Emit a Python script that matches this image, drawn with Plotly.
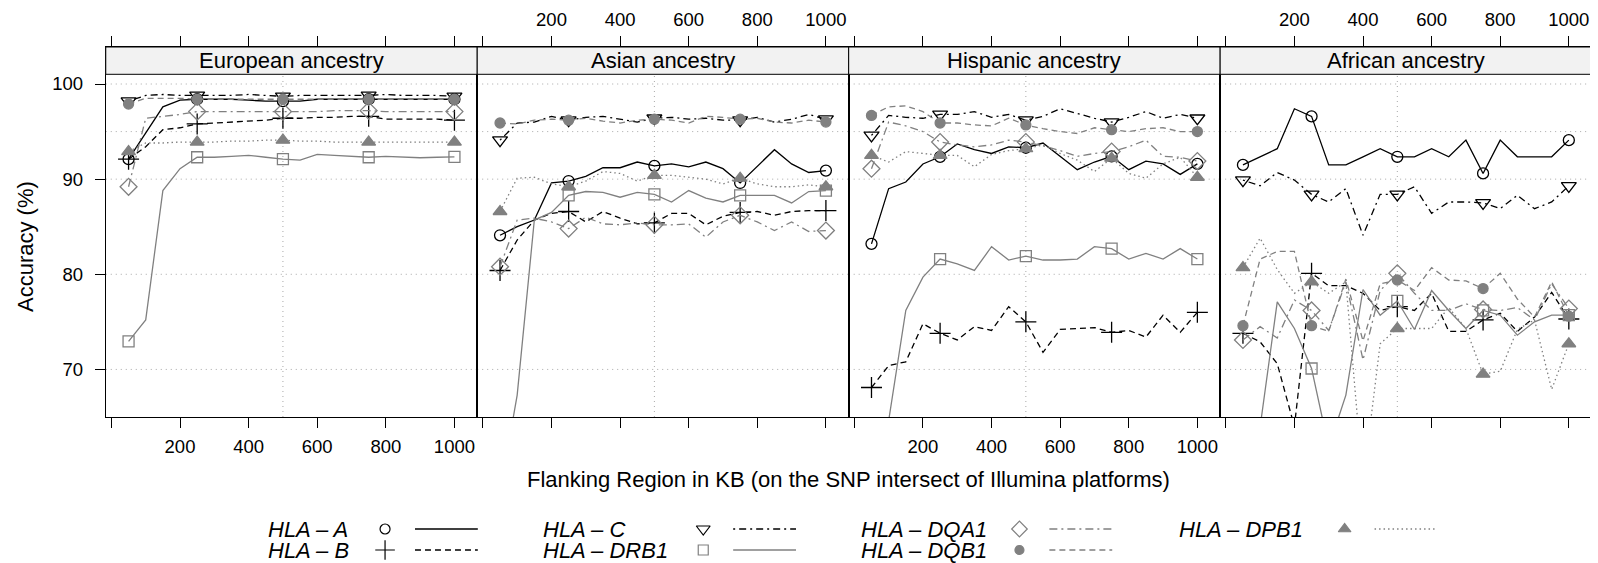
import plotly.graph_objects as go

# ---------------- data ----------------
flank_kb = [50, 100, 150, 200, 250, 300, 350, 400, 450, 500,
            550, 600, 650, 700, 750, 800, 850, 900, 950, 1000]
marker_kb = [50, 250, 500, 750, 1000]

panel_titles = ["European ancestry", "Asian ancestry", "Hispanic ancestry", "African ancestry"]
gene_labels = ["HLA – A", "HLA – B", "HLA – C", "HLA – DRB1", "HLA – DQA1", "HLA – DQB1", "HLA – DPB1"]

x_tick_vals = [0, 200, 400, 600, 800, 1000]
x_tick_text = ["", "200", "400", "600", "800", "1000"]
y_tick_vals = [70, 80, 90, 100]
y_grid_vals = [70, 80, 90, 95, 100]
x_grid_vals = [500]

# European ancestry
eur_a = [92.1, 94.8, 97.6, 98.3, 98.4, 98.4, 98.4, 98.3, 98.2, 98.2, 98.2, 98.4, 98.4, 98.4, 98.4, 98.4, 98.4, 98.4, 98.4, 98.4]
eur_b = [92.1, 93.4, 95.2, 95.4, 95.8, 95.9, 96.0, 96.1, 96.2, 96.4, 96.4, 96.5, 96.5, 96.6, 96.6, 96.3, 96.3, 96.3, 96.3, 96.2]
eur_c = [98.2, 98.8, 98.9, 98.8, 98.8, 98.8, 98.8, 98.9, 98.8, 98.7, 98.8, 98.8, 98.8, 98.8, 98.8, 98.9, 98.8, 98.8, 98.8, 98.7]
eur_drb1 = [72.95, 75.2, 88.8, 91.1, 92.3, 92.3, 92.4, 92.5, 92.3, 92.1, 92.0, 92.6, 92.5, 92.4, 92.3, 92.4, 92.35, 92.25, 92.3, 92.35]
eur_dqa1 = [89.2, 96.4, 96.6, 96.8, 97.1, 97.1, 97.1, 97.1, 97.1, 97.1, 97.1, 97.1, 97.2, 97.2, 97.2, 97.1, 97.1, 97.1, 97.1, 97.1]
eur_dqb1 = [97.9, 98.5, 98.5, 98.5, 98.4, 98.4, 98.4, 98.4, 98.4, 98.4, 98.4, 98.4, 98.4, 98.4, 98.4, 98.4, 98.4, 98.4, 98.4, 98.4]
eur_dpb1 = [92.9, 93.8, 93.8, 93.9, 93.9, 93.9, 94.0, 94.0, 94.1, 94.1, 94.0, 94.0, 93.9, 93.9, 93.9, 93.9, 93.9, 93.9, 93.9, 93.9]

# Asian ancestry
asn_a = [84.1, 85.0, 85.7, 89.6, 89.8, 90.3, 91.2, 91.2, 91.8, 91.4, 91.6, 91.3, 91.8, 91.1, 89.6, 91.4, 93.1, 91.6, 90.7, 90.9]
asn_b = [80.4, 83.6, 85.7, 86.4, 86.6, 85.5, 86.6, 85.9, 85.3, 85.4, 86.4, 86.4, 85.2, 86.1, 86.5, 86.6, 86.2, 86.6, 86.7, 86.7]
asn_c = [94.1, 95.9, 96.0, 96.6, 96.2, 96.5, 96.6, 96.3, 96.0, 96.4, 96.5, 96.3, 96.4, 96.2, 96.2, 96.5, 96.0, 96.3, 96.8, 96.3]
asn_drb1 = [57.0, 67.3, 85.7, 86.5, 88.3, 88.7, 88.6, 88.1, 88.6, 88.4, 87.6, 88.8, 88.0, 87.6, 88.3, 88.3, 88.3, 87.5, 88.7, 88.8]
asn_dqa1 = [80.8, 85.7, 85.9, 85.5, 84.8, 86.0, 85.3, 85.2, 85.4, 85.2, 85.2, 85.3, 83.9, 85.5, 86.2, 85.5, 84.6, 85.5, 84.5, 84.6]
asn_dqb1 = [95.9, 95.8, 96.2, 96.3, 96.2, 96.4, 96.1, 95.9, 96.2, 96.3, 96.2, 95.9, 96.6, 96.5, 96.3, 96.4, 96.0, 95.9, 96.2, 96.0]
asn_dpb1 = [86.6, 90.1, 90.2, 89.5, 89.2, 89.8, 90.8, 90.6, 89.8, 90.4, 90.4, 90.2, 90.0, 89.5, 90.1, 89.5, 89.2, 89.2, 89.4, 89.2]

# Hispanic ancestry
his_a = [83.2, 89.0, 89.7, 91.6, 92.35, 93.7, 93.1, 92.7, 93.4, 93.3, 93.8, 92.4, 91.0, 91.8, 92.4, 91.0, 91.9, 91.6, 90.5, 91.6]
his_b = [68.1, 70.4, 70.8, 74.8, 73.8, 73.1, 74.5, 74.1, 76.6, 75.0, 71.8, 74.2, 74.3, 74.4, 73.9, 74.1, 73.4, 75.7, 73.9, 76.0]
his_c = [94.6, 96.7, 96.5, 96.4, 96.8, 96.8, 97.1, 96.5, 96.8, 96.2, 96.6, 97.4, 96.9, 96.4, 96.0, 96.5, 97.1, 96.4, 96.8, 96.4]
his_drb1 = [50.0, 64.6, 76.2, 79.7, 81.6, 81.1, 80.4, 82.9, 81.5, 81.9, 81.5, 81.5, 81.6, 82.9, 82.7, 81.6, 82.2, 81.6, 82.7, 81.6]
his_dqa1 = [91.1, 96.0, 95.6, 95.0, 93.9, 93.6, 93.4, 93.6, 94.1, 93.9, 93.5, 93.0, 92.4, 92.7, 92.9, 93.4, 94.1, 92.4, 92.3, 91.9]
his_dqb1 = [96.7, 97.6, 97.7, 97.1, 95.9, 95.9, 95.7, 95.6, 96.4, 95.7, 95.3, 95.0, 94.8, 95.4, 95.2, 95.0, 95.3, 95.4, 95.0, 95.0]
his_dpb1 = [92.5, 91.8, 92.9, 92.7, 92.5, 92.5, 91.3, 92.6, 93.0, 93.2, 93.6, 92.7, 92.0, 90.8, 92.2, 90.6, 90.1, 91.6, 92.3, 90.2]

# African ancestry
afr_a = [91.5, 92.35, 93.2, 97.4, 96.6, 91.5, 91.5, 92.35, 93.2, 92.35, 92.35, 93.2, 92.35, 94.1, 90.6, 94.1, 92.35, 92.35, 92.35, 94.1]
afr_b = [73.8, 72.9, 70.6, 64.0, 80.1, 78.8, 78.8, 78.0, 76.2, 76.6, 76.2, 78.0, 74.0, 74.0, 75.2, 75.9, 74.0, 75.5, 78.1, 75.3]
afr_c = [89.9, 89.3, 90.7, 89.9, 88.4, 87.6, 89.0, 84.1, 88.4, 88.4, 89.2, 86.4, 87.6, 87.6, 87.5, 86.9, 88.3, 86.9, 87.6, 89.3]
afr_drb1 = [58.0, 63.95, 77.1, 74.3, 70.1, 61.8, 67.3, 78.4, 75.7, 77.2, 74.2, 78.3, 76.2, 74.3, 76.2, 75.7, 73.6, 75.0, 75.7, 75.7]
afr_dqa1 = [73.1, 74.5, 73.3, 77.3, 76.2, 74.1, 79.2, 71.0, 78.3, 80.1, 78.0, 76.2, 76.2, 76.9, 76.3, 76.2, 76.5, 75.2, 79.0, 76.4]
afr_dqb1 = [74.6, 81.6, 82.4, 82.4, 74.6, 74.0, 79.5, 73.0, 79.0, 79.4, 78.3, 80.7, 79.4, 79.3, 78.5, 80.1, 77.4, 75.5, 79.2, 75.6]
afr_dpb1 = [80.7, 83.8, 80.5, 78.0, 79.2, 78.0, 79.2, 58.0, 72.7, 74.3, 74.3, 74.3, 76.5, 74.3, 69.5, 69.8, 74.2, 75.2, 67.9, 72.7]

panel_data = [
    [eur_a, eur_b, eur_c, eur_drb1, eur_dqa1, eur_dqb1, eur_dpb1],
    [asn_a, asn_b, asn_c, asn_drb1, asn_dqa1, asn_dqb1, asn_dpb1],
    [his_a, his_b, his_c, his_drb1, his_dqa1, his_dqb1, his_dpb1],
    [afr_a, afr_b, afr_c, afr_drb1, afr_dqa1, afr_dqb1, afr_dpb1],
]

# ---------------- styles / layout constants ----------------
PAGE_OFF = 8                      # default body margin of the html page
W, H = 1598 - PAGE_OFF, 563 - PAGE_OFF
FONT = "Liberation Sans, Arial, Helvetica, sans-serif"
GRAY = "#808080"
GRID = "#a8a8a8"
PLOT_L = 106.0 - PAGE_OFF
PANEL_W = 372.4
TOP_PX = 47.0 - PAGE_OFF          # strip top
STRIP_BOT_PX = 74.3 - PAGE_OFF    # strip bottom / data region top
BOT_PX = 417.0 - PAGE_OFF         # panel bottom
X_RANGE = [-16.5, 1066.4]
Y_RANGE = [65.0, 103.89]

styles = [
    dict(color="black", dash="solid", lw=1.3, symbol="circle-open", size=11, mfill="black"),
    dict(color="black", dash="6px,4px", lw=1.3, symbol="cross-thin-open", size=15, mfill="black"),
    dict(color="black", dash="2px,4px,7px,4px", lw=1.3, symbol="triangle-down-open", size=13, mfill="black"),
    dict(color=GRAY, dash="solid", lw=1.3, symbol="square-open", size=11, mfill=GRAY),
    dict(color=GRAY, dash="8px,4px,2px,4px", lw=1.3, symbol="diamond-open", size=13, mfill=GRAY),
    dict(color=GRAY, dash="6px,4px", lw=1.3, symbol="circle", size=10, mfill=GRAY),
    dict(color=GRAY, dash="1.5px,3px", lw=1.3, symbol="triangle-up", size=12, mfill=GRAY),
]

fig = go.Figure()
marker_idx = [flank_kb.index(k) for k in marker_kb]

for p in range(4):
    ax = "" if p == 0 else str(p + 1)
    for g, vals in enumerate(panel_data[p]):
        st = styles[g]
        fig.add_trace(go.Scatter(
            x=flank_kb, y=vals, mode="lines", xaxis="x" + ax, yaxis="y" + ax,
            line=dict(color=st["color"], width=st["lw"], dash=st["dash"]),
            showlegend=False, hoverinfo="skip"))
        fig.add_trace(go.Scatter(
            x=marker_kb, y=[vals[i] for i in marker_idx], mode="markers",
            xaxis="x" + ax, yaxis="y" + ax,
            marker=dict(symbol=st["symbol"], size=st["size"], color=st["mfill"],
                        line=dict(color=st["mfill"], width=1.3)),
            showlegend=False, hoverinfo="skip"))

layout = dict(
    width=W, height=H, margin=dict(l=0, r=0, t=0, b=0),
    paper_bgcolor="white", plot_bgcolor="rgba(0,0,0,0)",
    font=dict(family=FONT, color="black"),
    showlegend=False,
)

y_dom = [1 - BOT_PX / H, 1 - TOP_PX / H]
for p in range(4):
    sfx = "" if p == 0 else str(p + 1)
    x0 = (PLOT_L + PANEL_W * p) / W
    x1 = min(1.0, (PLOT_L + PANEL_W * (p + 1)) / W)
    top_side = (p % 2 == 1)
    layout["xaxis" + sfx] = dict(
        domain=[x0, x1], range=X_RANGE, anchor="y" + sfx,
        side="top" if top_side else "bottom",
        showline=True, linecolor="black", linewidth=1, mirror="ticks",
        ticks="outside", ticklen=10, tickwidth=1, tickcolor="black",
        tickmode="array", tickvals=x_tick_vals, ticktext=x_tick_text,
        tickfont=dict(size=18.5, family=FONT), ticklabelstandoff=3,
        showgrid=False, zeroline=False,
    )
    ycfg = dict(
        domain=y_dom, range=Y_RANGE, anchor="x" + sfx,
        showline=True, linecolor="black", linewidth=1,
        tickmode="array", tickvals=y_tick_vals, showgrid=False, zeroline=False,
    )
    if p == 0:
        ycfg.update(side="left", mirror=True, ticks="outside", ticklen=10, tickwidth=1,
                    tickcolor="black", showticklabels=True,
                    tickfont=dict(size=18.5, family=FONT), ticklabelstandoff=8)
    elif p == 3:
        ycfg.update(side="right", mirror=True, ticks="outside", ticklen=6, tickwidth=1,
                    tickcolor="black", showticklabels=False)
    else:
        ycfg.update(mirror=True, ticks="", showticklabels=False)
    layout["yaxis" + sfx] = ycfg

# overlay pixel axes (reference-image pixel coordinates) for the key
layout["xaxis5"] = dict(domain=[0, 1], range=[PAGE_OFF, PAGE_OFF + W], visible=False,
                        anchor="y5", fixedrange=True)
layout["yaxis5"] = dict(domain=[0, 1], range=[PAGE_OFF + H, PAGE_OFF], visible=False,
                        anchor="x5", fixedrange=True)

fig.update_layout(**layout)

strip_frac = (BOT_PX - STRIP_BOT_PX) / (BOT_PX - TOP_PX)
annotations = []
shapes = []
for p in range(4):
    sfx = "" if p == 0 else str(p + 1)
    for gv in y_grid_vals:
        shapes.append(dict(type="line", xref="x" + sfx + " domain", yref="y" + sfx,
                           x0=0, x1=1, y0=gv, y1=gv, layer="below",
                           line=dict(color=GRID, width=1, dash="1px,4px")))
    for gv in x_grid_vals:
        shapes.append(dict(type="line", xref="x" + sfx, yref="y" + sfx + " domain",
                           x0=gv, x1=gv, y0=0, y1=strip_frac, layer="below",
                           line=dict(color=GRID, width=1, dash="1px,4px")))
    shapes.append(dict(type="rect", xref="x" + sfx + " domain", yref="y" + sfx + " domain",
                       x0=0, x1=1, y0=strip_frac, y1=1, fillcolor="#f2f2f2",
                       line=dict(color="black", width=1), layer="above"))
    annotations.append(dict(text=panel_titles[p], xref="x" + sfx + " domain",
                            yref="y" + sfx + " domain", x=0.5, y=(strip_frac + 1) / 2,
                            showarrow=False, xanchor="center", yanchor="middle",
                            font=dict(size=22, family=FONT, color="black")))

annotations.append(dict(text="Flanking Region in KB (on the SNP intersect of Illumina platforms)",
                        xref="x5", yref="y5", x=850.5, y=479,
                        showarrow=False, xanchor="center", yanchor="middle",
                        font=dict(size=22, family=FONT)))
annotations.append(dict(text="Accuracy (%)", xref="x5", yref="y5", x=25,
                        y=246, showarrow=False, textangle=-90,
                        xanchor="center", yanchor="middle", font=dict(size=22, family=FONT)))

# key (reference pixel positions)
key_rows_y = [529, 550]
key_text_x = [267, 542, 861, 1180]
key_marker_x = [386, 705, 1022, 1348]
key_layout = [(0, 0), (0, 1), (1, 0), (1, 1), (2, 0), (2, 1), (3, 0)]  # (block, row) per gene
for g, (blk, row) in enumerate(key_layout):
    st = styles[g]
    yy = key_rows_y[row]
    mx = key_marker_x[blk]
    annotations.append(dict(text="<i>" + gene_labels[g] + "</i>", xref="x5", yref="y5",
                            x=key_text_x[blk], y=yy, showarrow=False, xanchor="left",
                            yanchor="middle", font=dict(size=22, family=FONT)))
    fig.add_trace(go.Scatter(x=[mx], y=[yy], mode="markers", xaxis="x5", yaxis="y5",
                             marker=dict(symbol=st["symbol"], size=st["size"] - 1,
                                         color=st["mfill"],
                                         line=dict(color=st["mfill"], width=1.2)),
                             showlegend=False, hoverinfo="skip", cliponaxis=False))
    fig.add_trace(go.Scatter(x=[mx + 30, mx + 93], y=[yy, yy], mode="lines",
                             xaxis="x5", yaxis="y5",
                             line=dict(color=st["color"], width=st["lw"], dash=st["dash"]),
                             showlegend=False, hoverinfo="skip"))

fig.update_layout(annotations=annotations, shapes=shapes)
fig.write_html("out.html")
